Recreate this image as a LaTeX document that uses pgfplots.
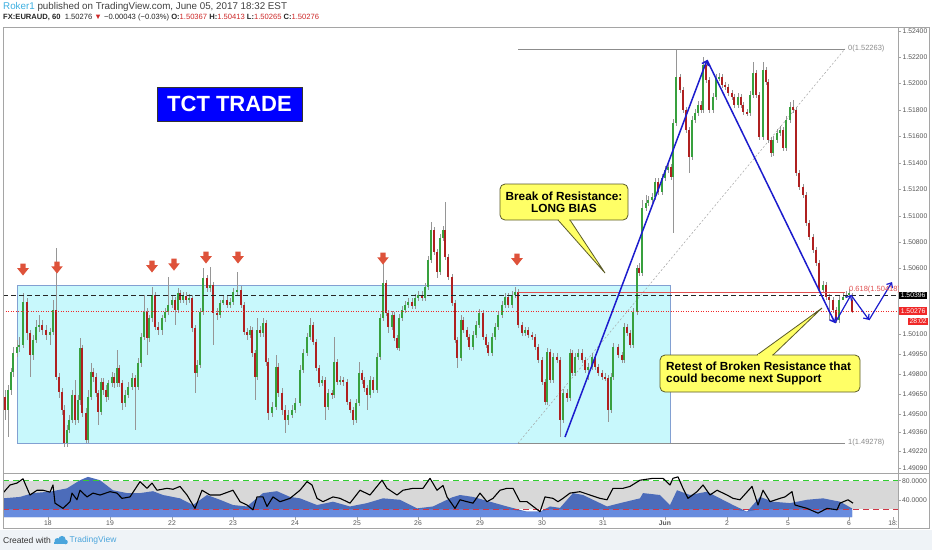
\documentclass[border=0pt]{standalone}
\usepackage{pgfplots}
\pgfplotsset{compat=1.18}
\usepackage{pgfplotstable}
\usepackage{fontspec}
\setmainfont{Liberation Sans}
\usetikzlibrary{arrows.meta}

\definecolor{cgreen}{RGB}{56,160,62}
\definecolor{cred}{RGB}{175,32,32}
\definecolor{wick}{RGB}{150,150,150}
\definecolor{boxcyan}{RGB}{200,248,252}
\definecolor{boxedge}{RGB}{130,160,210}
\definecolor{tblue}{RGB}{28,28,205}
\definecolor{marker}{RGB}{222,82,58}
\definecolor{fibgray}{RGB}{140,140,140}
\definecolor{fibred}{RGB}{225,80,80}
\definecolor{lblgray}{RGB}{85,85,85}
\definecolor{rokerblue}{RGB}{60,175,225}
\definecolor{tvred}{RGB}{205,40,40}
\definecolor{band}{RGB}{216,216,216}
\definecolor{areadark}{RGB}{76,108,186}
\definecolor{arealight}{RGB}{104,140,222}
\definecolor{lgreen}{RGB}{50,205,50}
\definecolor{lred}{RGB}{205,55,70}
\definecolor{calyellow}{RGB}{255,255,102}
\definecolor{caledge}{RGB}{90,90,40}
\definecolor{framegray}{RGB}{165,165,165}
\definecolor{footbg}{RGB}{239,243,247}
\definecolor{tvlogo}{RGB}{75,165,220}
\definecolor{pricered}{RGB}{240,40,40}

\pgfdeclareplotmark{resarrow}{%
  \pgfpathmoveto{\pgfqpoint{-2.6pt}{6.5pt}}%
  \pgfpathlineto{\pgfqpoint{2.6pt}{6.5pt}}%
  \pgfpathlineto{\pgfqpoint{2.6pt}{1.8pt}}%
  \pgfpathlineto{\pgfqpoint{5.8pt}{1.8pt}}%
  \pgfpathlineto{\pgfqpoint{0pt}{-5.5pt}}%
  \pgfpathlineto{\pgfqpoint{-5.8pt}{1.8pt}}%
  \pgfpathlineto{\pgfqpoint{-2.6pt}{1.8pt}}%
  \pgfpathclose
  \pgfusepathqfill}

\pgfplotstableread{
x o h l c
5 1.49628 1.49681 1.49454 1.49529
8 1.49529 1.49719 1.49325 1.49681
11 1.49681 1.49847 1.49643 1.49817
13 1.49817 1.50006 1.49779 1.49961
17 1.49961 1.50059 1.49931 1.50006
19 1.50006 1.50082 1.49969 1.50021
23 1.50021 1.50415 1.49998 1.50347
27 1.50347 1.50377 1.50059 1.50112
30 1.50112 1.50135 1.49779 1.49946
33 1.49946 1.50097 1.49908 1.50059
36 1.50059 1.50211 1.50036 1.50158
39 1.50158 1.50248 1.50120 1.50173
42 1.50173 1.50211 1.50097 1.50135
46 1.50135 1.50173 1.50059 1.50097
50 1.50097 1.50150 1.50021 1.50120
53 1.50120 1.50362 1.50097 1.50286
56 1.50286 1.50755 1.49757 1.49779
59 1.49779 1.49809 1.49620 1.49666
62 1.49666 1.49696 1.49491 1.49529
64 1.49529 1.49567 1.49249 1.49279
67 1.49279 1.49416 1.49249 1.49378
69 1.49378 1.49491 1.49355 1.49454
72 1.49454 1.49681 1.49431 1.49643
75 1.49643 1.49757 1.49416 1.49454
78 1.49454 1.49643 1.49431 1.49605
80 1.49605 1.50074 1.49567 1.49998
82 1.49998 1.50021 1.49476 1.49506
86 1.49506 1.49544 1.49279 1.49302
88 1.49302 1.49681 1.49279 1.49628
91 1.49628 1.49885 1.49605 1.49817
93 1.49817 1.49847 1.49742 1.49779
96 1.49779 1.49809 1.49628 1.49658
98 1.49658 1.49681 1.49416 1.49514
101 1.49514 1.49771 1.49491 1.49742
103 1.49742 1.49771 1.49643 1.49681
106 1.49681 1.49719 1.49590 1.49628
108 1.49628 1.49757 1.49605 1.49734
112 1.49734 1.49817 1.49704 1.49779
114 1.49779 1.49809 1.49696 1.49734
117 1.49734 1.49984 1.49704 1.49847
119 1.49847 1.49870 1.49704 1.49734
122 1.49734 1.49757 1.49529 1.49582
125 1.49582 1.49681 1.49552 1.49643
128 1.49643 1.49742 1.49620 1.49704
132 1.49704 1.49809 1.49681 1.49771
135 1.49771 1.49794 1.49378 1.49704
138 1.49704 1.49923 1.49681 1.49885
141 1.49885 1.50112 1.49855 1.50082
144 1.50082 1.50400 1.50059 1.50271
147 1.50271 1.50301 1.49946 1.50074
149 1.50074 1.50248 1.50044 1.50225
152 1.50225 1.50460 1.50196 1.50400
155 1.50400 1.50423 1.50135 1.50158
158 1.50158 1.50196 1.50097 1.50135
162 1.50135 1.50248 1.50097 1.50225
165 1.50225 1.50301 1.50196 1.50271
168 1.50271 1.50536 1.50248 1.50324
172 1.50324 1.50393 1.50301 1.50362
175 1.50362 1.50385 1.50173 1.50286
178 1.50286 1.50452 1.50263 1.50415
180 1.50415 1.50438 1.50339 1.50362
183 1.50362 1.50423 1.50339 1.50393
186 1.50393 1.50423 1.50324 1.50362
189 1.50362 1.50408 1.50339 1.50377
192 1.50377 1.50400 1.50120 1.50150
195 1.50150 1.50173 1.49658 1.49809
197 1.49809 1.49908 1.49779 1.49870
200 1.49870 1.50301 1.49847 1.50271
203 1.50271 1.50604 1.50248 1.50528
207 1.50528 1.50551 1.50423 1.50452
210 1.50452 1.50612 1.50423 1.50475
213 1.50475 1.50498 1.50021 1.50263
217 1.50263 1.50301 1.50211 1.50248
220 1.50248 1.50362 1.50225 1.50339
223 1.50339 1.50393 1.50324 1.50362
227 1.50362 1.50393 1.50301 1.50324
230 1.50324 1.50377 1.50301 1.50347
233 1.50347 1.50452 1.50324 1.50423
237 1.50423 1.50574 1.50400 1.50438
241 1.50438 1.50468 1.50301 1.50324
244 1.50324 1.50347 1.50097 1.50120
247 1.50120 1.50150 1.50059 1.50097
250 1.50097 1.50166 1.50074 1.50135
252 1.50135 1.50158 1.49931 1.49961
255 1.49961 1.49984 1.49605 1.49779
257 1.49779 1.50225 1.49757 1.50135
260 1.50135 1.50166 1.50082 1.50112
263 1.50112 1.50225 1.50082 1.50188
266 1.50188 1.50211 1.49863 1.49893
268 1.49893 1.49923 1.49454 1.49506
272 1.49506 1.49590 1.49476 1.49552
276 1.49552 1.49946 1.49529 1.49855
278 1.49855 1.49885 1.49628 1.49658
282 1.49658 1.49696 1.49491 1.49529
285 1.49529 1.49567 1.49355 1.49454
288 1.49454 1.49529 1.49416 1.49491
292 1.49491 1.49567 1.49468 1.49529
295 1.49529 1.49620 1.49506 1.49582
300 1.49582 1.49870 1.49560 1.49832
303 1.49832 1.49991 1.49809 1.49961
307 1.49961 1.50112 1.49939 1.50082
310 1.50082 1.50225 1.50059 1.50173
313 1.50173 1.50196 1.50021 1.50044
316 1.50044 1.50067 1.49824 1.49847
319 1.49847 1.49870 1.49704 1.49734
322 1.49734 1.49787 1.49712 1.49757
325 1.49757 1.49779 1.49454 1.49552
328 1.49552 1.49689 1.49529 1.49658
332 1.49658 1.49681 1.49613 1.49643
334 1.49643 1.50082 1.49620 1.49893
337 1.49893 1.49916 1.49719 1.49742
340 1.49742 1.49787 1.49719 1.49757
343 1.49757 1.49779 1.49712 1.49742
347 1.49742 1.49764 1.49567 1.49590
350 1.49590 1.49613 1.49506 1.49529
353 1.49529 1.49552 1.49416 1.49454
356 1.49454 1.49613 1.49431 1.49582
359 1.49582 1.49893 1.49560 1.49809
362 1.49809 1.49832 1.49727 1.49757
364 1.49757 1.49779 1.49666 1.49696
367 1.49696 1.49719 1.49529 1.49643
370 1.49643 1.49787 1.49620 1.49757
373 1.49757 1.49779 1.49658 1.49681
377 1.49681 1.49961 1.49658 1.49931
380 1.49931 1.50256 1.49908 1.50225
383 1.50225 1.50642 1.50203 1.50490
386 1.50490 1.50513 1.50241 1.50263
388 1.50263 1.50286 1.50112 1.50158
392 1.50158 1.50278 1.50135 1.50248
394 1.50248 1.50271 1.50051 1.50074
397 1.50074 1.50097 1.49984 1.49998
399 1.49998 1.50256 1.49976 1.50225
402 1.50225 1.50317 1.50203 1.50286
405 1.50286 1.50354 1.50263 1.50324
408 1.50324 1.50377 1.50301 1.50347
412 1.50347 1.50377 1.50294 1.50317
415 1.50317 1.50408 1.50294 1.50377
418 1.50377 1.50430 1.50354 1.50400
422 1.50400 1.50430 1.50354 1.50377
425 1.50377 1.50490 1.50354 1.50460
428 1.50460 1.50696 1.50438 1.50665
431 1.50665 1.50953 1.50642 1.50892
434 1.50892 1.50915 1.50703 1.50726
437 1.50726 1.50748 1.50528 1.50574
440 1.50574 1.50862 1.50551 1.50831
443 1.50831 1.50923 1.50808 1.50892
445 1.50892 1.51104 1.50665 1.50688
448 1.50688 1.50711 1.50513 1.50536
452 1.50536 1.50559 1.50317 1.50339
455 1.50339 1.50362 1.50036 1.50059
457 1.50059 1.50082 1.49847 1.49923
461 1.49923 1.50248 1.49900 1.50211
463 1.50211 1.50233 1.50112 1.50135
467 1.50135 1.50158 1.50059 1.50082
469 1.50082 1.50105 1.49984 1.50006
473 1.50006 1.50127 1.49984 1.50097
476 1.50097 1.50203 1.50074 1.50173
479 1.50173 1.50294 1.50150 1.50263
483 1.50263 1.50286 1.50059 1.50082
486 1.50082 1.50105 1.49998 1.50021
488 1.50021 1.50044 1.49939 1.49961
492 1.49961 1.50112 1.49939 1.50082
495 1.50082 1.50188 1.50059 1.50158
498 1.50158 1.50278 1.50135 1.50248
502 1.50248 1.50354 1.50225 1.50324
505 1.50324 1.50415 1.50301 1.50385
508 1.50385 1.50415 1.50301 1.50324
512 1.50324 1.50430 1.50301 1.50400
515 1.50400 1.50460 1.50377 1.50423
518 1.50423 1.50445 1.50150 1.50173
522 1.50173 1.50196 1.50090 1.50112
525 1.50112 1.50158 1.50090 1.50135
528 1.50135 1.50158 1.50074 1.50097
532 1.50097 1.50120 1.50059 1.50082
535 1.50082 1.50105 1.49984 1.50006
538 1.50006 1.50029 1.49885 1.49908
542 1.49908 1.49931 1.49719 1.49742
545 1.49742 1.49764 1.49567 1.49590
547 1.49590 1.49998 1.49567 1.49969
550 1.49969 1.49991 1.49734 1.49757
553 1.49757 1.49961 1.49734 1.49931
557 1.49931 1.49961 1.49885 1.49908
560 1.49908 1.49931 1.49325 1.49454
563 1.49454 1.49689 1.49431 1.49658
567 1.49658 1.49689 1.49590 1.49620
570 1.49620 1.49991 1.49597 1.49961
572 1.49961 1.49984 1.49787 1.49809
575 1.49809 1.49961 1.49787 1.49931
578 1.49931 1.49991 1.49908 1.49961
582 1.49961 1.49991 1.49885 1.49908
585 1.49908 1.49931 1.49809 1.49832
588 1.49832 1.49885 1.49757 1.49855
592 1.49855 1.49961 1.49832 1.49931
595 1.49931 1.49954 1.49832 1.49855
598 1.49855 1.49878 1.49787 1.49809
602 1.49809 1.49832 1.49757 1.49779
605 1.49779 1.49809 1.49749 1.49771
608 1.49771 1.49794 1.49439 1.49529
611 1.49529 1.49809 1.49506 1.49779
613 1.49779 1.50036 1.49757 1.50006
618 1.50006 1.50029 1.49923 1.49946
622 1.49946 1.49969 1.49885 1.49908
624 1.49908 1.50188 1.49885 1.50158
627 1.50158 1.50181 1.50090 1.50112
630 1.50112 1.50135 1.49998 1.50021
633 1.50021 1.50301 1.49998 1.50271
637 1.50271 1.50627 1.50248 1.50604
639 1.50604 1.50642 1.50544 1.50566
642 1.50566 1.51119 1.50544 1.51058
646 1.51058 1.51157 1.51035 1.51096
648 1.51096 1.51150 1.51074 1.51119
652 1.51119 1.51172 1.51096 1.51142
655 1.51142 1.51285 1.51119 1.51255
658 1.51255 1.51285 1.51157 1.51180
662 1.51180 1.51316 1.51157 1.51285
665 1.51285 1.51377 1.51262 1.51346
668 1.51346 1.51399 1.51323 1.51369
671 1.51369 1.51392 1.51270 1.51293
673 1.51293 1.51732 1.50869 1.51702
676 1.51702 1.52255 1.51680 1.52050
680 1.52050 1.52073 1.51929 1.51952
683 1.51952 1.51974 1.51777 1.51800
686 1.51800 1.51823 1.51626 1.51649
689 1.51649 1.51672 1.51323 1.51445
692 1.51445 1.51755 1.51422 1.51725
695 1.51725 1.51808 1.51702 1.51777
698 1.51777 1.51868 1.51755 1.51838
701 1.51838 1.51868 1.51777 1.51800
703 1.51800 1.52202 1.51777 1.52141
706 1.52141 1.52164 1.52004 1.52027
709 1.52027 1.52050 1.51777 1.51800
713 1.51800 1.51929 1.51777 1.51899
716 1.51899 1.52073 1.51876 1.52042
719 1.52042 1.52080 1.52019 1.52050
722 1.52050 1.52073 1.51966 1.51989
725 1.51989 1.52012 1.51952 1.51974
728 1.51974 1.51997 1.51907 1.51929
732 1.51929 1.51952 1.51876 1.51899
734 1.51899 1.51922 1.51815 1.51838
738 1.51838 1.51929 1.51815 1.51899
741 1.51899 1.51922 1.51815 1.51838
743 1.51838 1.51861 1.51762 1.51785
747 1.51785 1.51808 1.51755 1.51777
750 1.51777 1.51944 1.51755 1.51914
753 1.51914 1.52164 1.51891 1.52080
756 1.52080 1.52103 1.51891 1.51914
759 1.51914 1.51937 1.51573 1.51596
763 1.51596 1.52164 1.51573 1.52103
766 1.52103 1.52126 1.51989 1.52012
768 1.52012 1.52035 1.51550 1.51573
771 1.51573 1.51596 1.51445 1.51475
773 1.51475 1.51604 1.51453 1.51573
777 1.51573 1.51657 1.51550 1.51626
780 1.51626 1.51680 1.51604 1.51649
783 1.51649 1.51672 1.51490 1.51512
786 1.51512 1.51755 1.51490 1.51725
790 1.51725 1.51861 1.51702 1.51823
793 1.51823 1.51876 1.51777 1.51800
796 1.51800 1.51823 1.51301 1.51323
799 1.51323 1.51346 1.51195 1.51217
803 1.51217 1.51240 1.51134 1.51157
806 1.51157 1.51180 1.50923 1.50945
809 1.50945 1.50968 1.50816 1.50839
813 1.50839 1.50862 1.50718 1.50741
816 1.50741 1.50763 1.50620 1.50642
819 1.50642 1.50665 1.50415 1.50438
823 1.50438 1.50505 1.50415 1.50475
826 1.50475 1.50498 1.50362 1.50385
829 1.50385 1.50408 1.50211 1.50362
833 1.50362 1.50385 1.50263 1.50286
836 1.50286 1.50309 1.50188 1.50211
839 1.50211 1.50393 1.50188 1.50362
843 1.50362 1.50415 1.50362 1.50385
846 1.50385 1.50430 1.50377 1.50400
849 1.50400 1.50445 1.50393 1.50415
852 1.50367 1.50413 1.50265 1.50276
}\candles

\begin{document}
\begin{tikzpicture}[x=1pt,y=1pt]
\fill[white] (0pt,0pt) rectangle (932pt,-550pt);
\fill[footbg] (0pt,-530pt) rectangle (932pt,-550pt);

% ---------------- main price panel ----------------
\begin{axis}[
  at={(3pt,-473pt)}, anchor=south west, scale only axis,
  width=895pt, height=446pt,
  xmin=3, xmax=898, ymin=1.490525, ymax=1.524288,
  axis line style={draw=none},
  xtick=\empty,
  ytick={1.524,1.522,1.520,1.518,1.516,1.514,1.512,1.510,1.508,1.506,1.501,1.4995,1.498,1.4965,1.495,1.4936,1.4922,1.4909},
  yticklabels={1.52400,1.52200,1.52000,1.51800,1.51600,1.51400,1.51200,1.51000,1.50800,1.50600,1.50100,1.49950,1.49800,1.49650,1.49500,1.49360,1.49220,1.49090},
  ytick pos=right, yticklabel pos=right,
  tick align=outside, major tick length=3pt,
  ytick style={draw=framegray, line width=0.4pt},
  yticklabel style={font=\fontsize{6.8}{8}\selectfont, text=lblgray, inner sep=1.5pt},
  /pgf/number format/assume math mode=true,
  clip=true,
]
\addplot[fill=boxcyan, draw=boxedge, line width=0.7pt, forget plot] coordinates {(17,1.50475)(670,1.50475)(670,1.49280)(17,1.49280)} -- cycle;
\addplot[fibgray!80, dash pattern=on 2pt off 2pt, line width=0.5pt, forget plot] coordinates {(518,1.49278)(845,1.52263)};
\addplot[draw=none, no markers, forget plot,
  error bars/.cd, y dir=both, y explicit, error mark=none,
  error bar style={draw=wick, line width=0.6pt}]
  table[x=x, y expr={(\thisrow{h}+\thisrow{l})/2}, y error expr={(\thisrow{h}-\thisrow{l})/2}] {\candles};
\addplot[draw=none, no markers, forget plot,
  restrict expr to domain={\thisrow{c}-\thisrow{o}}{0:1},
  error bars/.cd, y dir=both, y explicit, error mark=none,
  error bar style={draw=cgreen, line width=2.8pt}]
  table[x=x, y expr={(\thisrow{o}+\thisrow{c})/2}, y error expr={abs(\thisrow{c}-\thisrow{o})/2}] {\candles};
\addplot[draw=none, no markers, forget plot,
  restrict expr to domain={\thisrow{c}-\thisrow{o}}{-1:-0.000001},
  error bars/.cd, y dir=both, y explicit, error mark=none,
  error bar style={draw=cred, line width=2.8pt}]
  table[x=x, y expr={(\thisrow{o}+\thisrow{c})/2}, y error expr={abs(\thisrow{c}-\thisrow{o})/2}] {\candles};
\addplot[black!85, dash pattern=on 5pt off 3pt, line width=1.1pt, forget plot] coordinates {(3,1.50396)(898,1.50396)};
\addplot[pricered, dash pattern=on 1.2pt off 1.3pt, line width=0.7pt, forget plot] coordinates {(3,1.50276)(898,1.50276)};
\addplot[fibgray, line width=0.6pt, forget plot] coordinates {(518,1.52263)(845,1.52263)};
\addplot[fibgray, line width=0.6pt, forget plot] coordinates {(518,1.49278)(845,1.49278)};
\addplot[fibred, line width=0.9pt, forget plot] coordinates {(518,1.50418)(845,1.50418)};
\addplot[tblue, line width=1.5pt, -{Straight Barb[length=4pt,width=7pt]}, forget plot] coordinates {(565,1.49325)(707,1.52179)};
\addplot[tblue, line width=1.5pt, -{Straight Barb[length=4pt,width=7pt]}, forget plot] coordinates {(707,1.52179)(835,1.50188)};
\addplot[tblue, line width=1.2pt, -{Straight Barb[length=4pt,width=7pt]}, forget plot] coordinates {(835,1.50188)(851,1.50400)};
\addplot[tblue, line width=1.2pt, -{Straight Barb[length=4pt,width=7pt]}, forget plot] coordinates {(851,1.50400)(869,1.50211)};
\addplot[tblue, line width=1.2pt, -{Straight Barb[length=4pt,width=7pt]}, forget plot] coordinates {(869,1.50211)(892,1.50498)};
\addplot[only marks, mark=resarrow, color=marker, forget plot] coordinates {(23,1.50589)(57,1.50604)(152,1.50612)(174,1.50626)(206,1.50680)(238,1.50680)(383,1.50672)(517,1.50665)};
\end{axis}

% ---------------- oscillator panel ----------------
\begin{axis}[
  at={(3pt,-517pt)}, anchor=south west, scale only axis,
  width=895pt, height=44pt,
  xmin=3, xmax=898, ymin=3.9, ymax=96.1,
  axis line style={draw=none},
  xtick={48,110,172,233,295,357,418,480,542,603,665,727,788,849,893},
  xticklabels={18,19,22,23,24,25,26,29,30,31,\textbf{Jun},2,5,6,18:},
  xtick pos=bottom, ytick pos=right, yticklabel pos=right,
  ytick={40,80}, yticklabels={40.0000,80.0000},
  tick align=outside, major tick length=2.5pt,
  tick style={draw=framegray, line width=0.4pt},
  ticklabel style={font=\fontsize{6.8}{8}\selectfont, text=lblgray},
  xticklabel style={inner sep=1pt},
  yticklabel style={inner sep=1.5pt},
  clip=true,
]
\addplot[fill=band, draw=none, forget plot] coordinates {(3,20)(898,20)(898,80)(3,80)} -- cycle;
\addplot[fill=areadark, draw=none, forget plot] coordinates {(3,43)(20,46)(33,54)(50,57)(67,64)(80,81)(88,88)(100,81)(113,60)(127,54)(140,54)(153,58)(163,50)(180,43)(193,29)(207,50)(220,40)(233,29)(247,26)(263,54)(277,58)(290,46)(300,43)(317,29)(333,36)(350,26)(367,33)(383,43)(400,40)(417,22)(433,26)(440,33)(452,45)(460,50)(473,46)(490,36)(507,26)(527,15)(540,15)(550,26)(560,23)(573,54)(583,50)(597,36)(607,26)(620,33)(640,43)(643,54)(660,50)(670,29)(677,60)(690,50)(707,57)(720,43)(733,29)(747,15)(760,46)(773,36)(790,33)(807,40)(823,43)(840,36)(852,22)} \closedcycle;
\addplot[fill=arealight, draw=none, forget plot, y filter/.expression={min(y,20)}] coordinates {(3,43)(20,46)(33,54)(50,57)(67,64)(80,81)(88,88)(100,81)(113,60)(127,54)(140,54)(153,58)(163,50)(180,43)(193,29)(207,50)(220,40)(233,29)(247,26)(263,54)(277,58)(290,46)(300,43)(317,29)(333,36)(350,26)(367,33)(383,43)(400,40)(417,22)(433,26)(440,33)(452,45)(460,50)(473,46)(490,36)(507,26)(527,15)(540,15)(550,26)(560,23)(573,54)(583,50)(597,36)(607,26)(620,33)(640,43)(643,54)(660,50)(670,29)(677,60)(690,50)(707,57)(720,43)(733,29)(747,15)(760,46)(773,36)(790,33)(807,40)(823,43)(840,36)(852,22)} \closedcycle;
\addplot[lgreen, dash pattern=on 6pt off 4pt, line width=1.3pt, forget plot] coordinates {(3,80)(898,80)};
\addplot[lred, dash pattern=on 6pt off 4pt, line width=1.3pt, forget plot] coordinates {(3,20)(898,20)};
\addplot[black, line width=1.1pt, line join=round, forget plot] coordinates {(3,54)(10,71)(17,75)(23,84)(30,50)(37,60)(43,60)(50,56)(53,71)(55,33)(63,22)(70,36)(72,54)(77,40)(80,60)(87,46)(93,54)(100,50)(110,57)(117,54)(122,43)(130,46)(140,78)(147,64)(152,75)(157,60)(167,64)(173,62)(180,68)(187,50)(195,22)(202,60)(210,50)(220,50)(233,60)(240,36)(247,29)(253,19)(257,46)(263,46)(267,26)(273,46)(280,36)(290,43)(300,60)(307,78)(312,71)(317,43)(323,36)(333,46)(340,43)(350,33)(360,60)(370,50)(382,81)(387,64)(397,50)(403,60)(413,64)(423,64)(430,85)(437,60)(443,70)(447,46)(455,22)(460,40)(467,36)(473,33)(480,54)(487,36)(493,43)(500,60)(507,64)(513,64)(520,36)(527,36)(540,15)(545,46)(553,43)(558,36)(563,43)(570,54)(580,57)(590,50)(600,43)(607,40)(613,64)(623,64)(630,68)(640,81)(653,85)(663,85)(670,71)(673,85)(678,88)(683,64)(688,43)(697,57)(703,71)(710,50)(717,60)(727,50)(733,43)(740,40)(752,68)(758,29)(763,60)(770,36)(780,43)(785,46)(792,57)(795,29)(807,22)(818,12)(827,22)(837,19)(840,33)(848,40)(853,33)};
\end{axis}

% ---------------- frame ----------------
\draw[framegray, line width=0.8pt] (3pt,-27pt) rectangle (929pt,-528pt);
\draw[framegray, line width=0.8pt] (898pt,-27pt) -- (898pt,-528pt);
\draw[framegray, line width=0.8pt] (3pt,-473pt) -- (929pt,-473pt);

\begin{scope}
\clip (3pt,-27pt) rectangle (898pt,-473pt);
\node[anchor=west, text=fibgray, font=\fontsize{7.5}{9}\selectfont, inner sep=0] at (848pt,-49pt) {0(1.52263)};
\node[anchor=west, text=fibgray, font=\fontsize{7.5}{9}\selectfont, inner sep=0] at (848pt,-443pt) {1(1.49278)};
\node[anchor=west, text=fibred, font=\fontsize{7.5}{9}\selectfont, inner sep=0] at (849pt,-290pt) {0.618(1.50418)};
\end{scope}

\node[fill=black, text=white, font=\fontsize{6.8}{8}\selectfont, inner xsep=1.6pt, inner ysep=1.3pt, anchor=west] at (899pt,-295.5pt) {1.50396};
\node[fill=pricered, text=white, font=\fontsize{6.8}{8}\selectfont, inner xsep=1.6pt, inner ysep=1.3pt, anchor=west] at (899pt,-311pt) {1.50276};
\node[fill=pricered, text=white, font=\fontsize{6.8}{8}\selectfont, inner xsep=1.6pt, inner ysep=1.1pt, anchor=east] at (928.5pt,-321.5pt) {28:02};

\node[fill=blue, draw=black!80, line width=0.8pt, minimum width=145pt, minimum height=34pt, text=white, font=\bfseries\fontsize{22}{24}\selectfont, inner sep=0] at (229.5pt,-104pt) {TCT TRADE};

\filldraw[fill=calyellow, draw=caledge, line width=0.8pt, line join=miter] (558pt,-220pt) -- (605pt,-273pt) -- (570pt,-220pt);
\filldraw[fill=calyellow, draw=caledge, line width=0.8pt, rounded corners=5pt] (500pt,-184pt) rectangle (628pt,-220pt);
\fill[calyellow] (559.2pt,-218.6pt) rectangle (568.8pt,-221.3pt);
\node[font=\bfseries\fontsize{11.8}{11.8}\selectfont, align=center, inner sep=0] at (564pt,-202pt) {Break of Resistance:\\LONG BIAS};

\filldraw[fill=calyellow, draw=caledge, line width=0.8pt, line join=miter] (757pt,-355pt) -- (822pt,-308pt) -- (773pt,-355pt);
\filldraw[fill=calyellow, draw=caledge, line width=0.8pt, rounded corners=5pt] (660pt,-355pt) rectangle (860pt,-392pt);
\fill[calyellow] (758.2pt,-353.7pt) rectangle (771.8pt,-356.4pt);
\node[font=\bfseries\fontsize{11.8}{11.5}\selectfont, align=left, anchor=west, inner sep=0] at (666pt,-373.5pt) {Retest of Broken Resistance that\\could become next Support};

\node[anchor=west, font=\fontsize{9.8}{11}\selectfont, text=black!75, inner sep=0] at (3pt,-7pt) {\textcolor{rokerblue}{Roker1} published on TradingView.com, June 05, 2017 18:32 EST};
\node[anchor=west, font=\fontsize{7.6}{9}\selectfont, text=black!85, inner sep=0] at (3pt,-17.5pt) {\textbf{FX:EURAUD, 60}\ \ 1.50276 \textcolor{tvred}{▼} −0.00043 (−0.03\%) \textbf{O:}\textcolor{tvred}{1.50367} \textbf{H:}\textcolor{tvred}{1.50413} \textbf{L:}\textcolor{tvred}{1.50265} \textbf{C:}\textcolor{tvred}{1.50276}};

\node[anchor=west, font=\fontsize{8.5}{10}\selectfont, text=black!80, inner sep=0] at (3pt,-540.5pt) {Created with};
\fill[tvlogo] (54pt,-544pt) rectangle (67pt,-541.5pt);
\fill[tvlogo] (57.5pt,-541pt) circle (3pt);
\fill[tvlogo] (62pt,-539.5pt) circle (3.6pt);
\fill[tvlogo] (65.5pt,-542pt) circle (2.3pt);
\node[anchor=west, font=\fontsize{8.5}{10}\selectfont, text=tvlogo, inner sep=0] at (69.5pt,-540.5pt) {TradingView};

\pgfresetboundingbox
\useasboundingbox (0pt,0pt) rectangle (932pt,-550pt);
\end{tikzpicture}
\end{document}
